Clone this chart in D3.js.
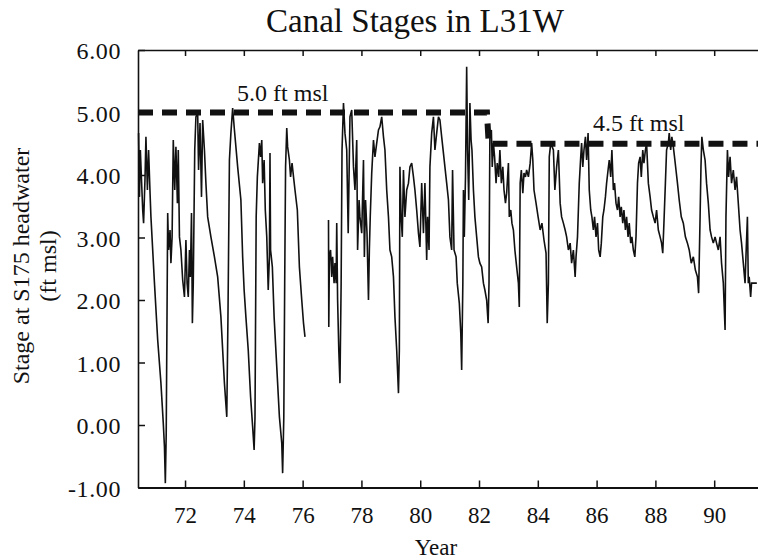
<!DOCTYPE html>
<html><head><meta charset="utf-8">
<script src="https://cdn.jsdelivr.net/npm/d3@7"></script>
<style>
body{margin:0;background:#fff}
svg{display:block}
text{font-family:"Liberation Serif","Times New Roman",serif;fill:#111}
</style>
</head><body>
<svg id="chart" width="758" height="560"></svg>
<script>
const chartTitle = "Canal Stages in L31W";
const xLabel = "Year";
const yLabelLines = ["Stage at S175 headwater", "(ft msl)"];
const xTicks = [72, 74, 76, 78, 80, 82, 84, 86, 88, 90];
const xTickLabels = ["72", "74", "76", "78", "80", "82", "84", "86", "88", "90"];
const yTicks = [-1, 0, 1, 2, 3, 4, 5, 6];
const yTickLabels = ["-1.00", "0.00", "1.00", "2.00", "3.00", "4.00", "5.00", "6.00"];
const xDomain = [70.4, 91.49];
const yDomain = [-1, 6];

// target stage (ft msl): 5.0 until 1982, then 4.5
const targetLevels = [[70.4, 5.0], [82.27, 5.0], [82.33, 4.5], [91.49, 4.5]];
const targetLabels = [{text: "5.0 ft msl", year: 73.77, level: 5.0}, {text: "4.5 ft msl", year: 85.88, level: 4.5}];

// stage record 1970-1976 [year, stage ft msl]
const stageSegmentA = [[70.42,4.67],[70.45,3.65],[70.48,4.40],[70.51,4.03],[70.56,3.44],[70.59,3.23],[70.64,3.97],[70.67,4.61],[70.72,3.76],[70.76,4.40],[70.81,3.71],[70.84,3.33],[70.96,2.27],[71.07,1.36],[71.18,0.67],[71.26,0.03],[71.30,-0.35],[71.33,-0.93],[71.36,-0.13],[71.41,3.39],[71.44,2.80],[71.49,3.12],[71.52,2.59],[71.56,3.01],[71.60,4.56],[71.65,3.76],[71.69,4.45],[71.74,3.55],[71.77,4.40],[71.81,3.01],[71.86,2.80],[71.92,2.32],[71.98,2.05],[72.03,2.96],[72.07,2.27],[72.11,2.05],[72.15,2.80],[72.18,2.37],[72.22,3.39],[72.25,1.63],[72.28,2.27],[72.33,4.40],[72.37,4.93],[72.43,4.99],[72.46,4.08],[72.51,4.83],[72.56,3.65],[72.60,4.88],[72.66,4.40],[72.71,3.87],[72.77,3.33],[72.88,3.01],[73.00,2.69],[73.11,2.37],[73.22,1.73],[73.34,0.67],[73.42,0.13],[73.46,1.73],[73.51,4.24],[73.56,4.67],[73.62,5.07],[73.68,4.72],[73.79,4.13],[73.90,3.60],[73.96,2.69],[74.01,2.16],[74.07,1.73],[74.15,1.20],[74.23,0.45],[74.30,-0.03],[74.35,-0.40],[74.38,0.13],[74.42,3.33],[74.46,3.97],[74.53,4.51],[74.57,4.29],[74.61,4.56],[74.64,3.87],[74.69,4.24],[74.73,3.44],[74.78,3.01],[74.83,2.16],[74.87,2.69],[74.89,4.35],[74.91,2.80],[74.97,2.53],[75.03,1.73],[75.12,0.93],[75.21,0.13],[75.29,-0.29],[75.32,-0.77],[75.36,0.13],[75.39,2.27],[75.42,4.13],[75.46,4.75],[75.49,4.45],[75.55,4.24],[75.59,3.97],[75.64,4.19],[75.69,3.97],[75.74,3.76],[75.82,3.44],[75.89,2.53],[75.97,2.00],[76.03,1.63],[76.08,1.41]];

// stage record 1977-1991 [year, stage ft msl]
const stageSegmentB = [[76.88,3.28],[76.89,1.57],[76.91,2.69],[76.95,2.80],[76.99,2.37],[77.02,2.69],[77.07,2.27],[77.10,2.59],[77.14,2.27],[77.16,3.23],[77.19,2.00],[77.23,1.20],[77.27,0.67],[77.31,2.27],[77.34,4.40],[77.39,5.15],[77.44,4.67],[77.50,4.40],[77.55,3.07],[77.61,4.93],[77.67,5.04],[77.73,4.13],[77.78,3.76],[77.84,4.56],[77.87,2.80],[77.92,3.60],[77.95,3.33],[78.01,3.07],[78.07,4.24],[78.10,2.69],[78.14,3.60],[78.19,3.07],[78.24,2.00],[78.27,2.80],[78.30,3.33],[78.35,4.03],[78.41,4.56],[78.46,4.29],[78.52,4.51],[78.58,4.72],[78.63,4.77],[78.69,4.93],[78.75,4.61],[78.80,4.40],[78.86,3.76],[78.92,3.33],[78.97,2.80],[79.03,2.69],[79.09,2.37],[79.14,1.73],[79.20,1.20],[79.26,0.51],[79.29,1.20],[79.31,4.13],[79.35,3.33],[79.39,3.01],[79.43,4.08],[79.48,3.33],[79.54,3.76],[79.60,3.87],[79.65,4.13],[79.71,4.19],[79.77,3.97],[79.82,3.76],[79.88,3.44],[79.94,3.07],[79.99,2.85],[80.05,3.87],[80.11,3.07],[80.16,3.87],[80.22,2.64],[80.25,3.33],[80.30,2.80],[80.33,4.13],[80.39,4.67],[80.45,4.93],[80.50,4.40],[80.56,4.67],[80.62,4.93],[80.67,4.88],[80.73,4.61],[80.79,4.35],[80.84,4.13],[80.90,3.87],[80.96,3.60],[81.01,3.01],[81.07,2.80],[81.10,4.08],[81.15,2.80],[81.22,2.69],[81.26,2.27],[81.33,1.95],[81.38,1.47],[81.41,0.88],[81.45,2.27],[81.47,3.76],[81.50,3.01],[81.54,3.97],[81.58,5.73],[81.61,4.40],[81.65,3.60],[81.69,5.15],[81.73,4.56],[81.76,4.40],[81.81,3.76],[81.86,3.33],[81.92,3.01],[81.98,2.69],[82.03,2.59],[82.09,2.53],[82.15,2.27],[82.20,2.16],[82.26,2.00],[82.31,1.63],[82.34,2.27],[82.37,4.67],[82.42,4.72],[82.45,4.13],[82.49,4.51],[82.53,4.29],[82.58,3.87],[82.62,4.19],[82.67,3.97],[82.71,4.40],[82.76,3.87],[82.81,4.13],[82.85,3.76],[82.90,3.55],[82.94,3.71],[83.00,4.19],[83.03,3.33],[83.08,3.44],[83.12,3.23],[83.17,3.12],[83.22,2.80],[83.28,2.53],[83.34,2.27],[83.37,1.89],[83.40,3.87],[83.44,4.08],[83.49,3.71],[83.53,4.03],[83.58,3.97],[83.62,4.08],[83.68,3.97],[83.74,4.19],[83.79,4.51],[83.83,4.24],[83.87,3.76],[83.94,3.55],[84.01,3.33],[84.08,3.12],[84.14,3.23],[84.21,2.96],[84.28,2.75],[84.32,1.63],[84.36,2.27],[84.39,4.29],[84.44,4.51],[84.53,4.40],[84.58,3.76],[84.64,4.13],[84.70,4.40],[84.76,3.55],[84.81,3.33],[84.87,3.23],[84.93,3.12],[84.98,3.01],[85.04,2.80],[85.10,2.91],[85.15,2.59],[85.21,2.80],[85.27,2.37],[85.30,2.69],[85.35,3.01],[85.38,3.44],[85.41,3.87],[85.46,4.29],[85.49,4.51],[85.53,4.13],[85.57,4.40],[85.62,4.61],[85.66,4.24],[85.71,4.67],[85.75,3.76],[85.80,3.44],[85.84,3.33],[85.89,3.12],[85.93,3.33],[85.98,3.01],[86.03,3.23],[86.07,2.80],[86.12,2.69],[86.16,2.91],[86.21,3.33],[86.25,3.44],[86.30,3.65],[86.34,3.87],[86.39,4.08],[86.43,4.24],[86.48,3.97],[86.52,4.40],[86.57,3.76],[86.61,3.87],[86.66,3.55],[86.71,3.44],[86.75,3.65],[86.80,3.33],[86.84,3.49],[86.89,3.23],[86.93,3.44],[86.98,3.12],[87.02,3.33],[87.07,3.01],[87.11,3.23],[87.16,2.91],[87.20,3.01],[87.25,2.80],[87.30,2.69],[87.34,3.01],[87.39,3.87],[87.43,4.19],[87.48,4.29],[87.52,3.97],[87.57,4.40],[87.61,4.19],[87.66,4.40],[87.70,4.51],[87.76,3.87],[87.82,3.65],[87.87,3.44],[87.93,3.33],[87.99,3.23],[88.04,3.44],[88.10,3.12],[88.16,3.01],[88.21,2.91],[88.25,2.75],[88.29,3.23],[88.34,3.87],[88.38,4.40],[88.44,4.51],[88.47,4.67],[88.52,4.40],[88.56,4.61],[88.61,4.45],[88.65,4.29],[88.70,4.08],[88.75,3.87],[88.81,3.60],[88.88,3.33],[88.95,3.23],[89.02,3.01],[89.09,2.91],[89.15,2.80],[89.22,2.59],[89.29,2.69],[89.36,2.48],[89.43,2.37],[89.47,2.11],[89.52,3.33],[89.55,4.13],[89.58,4.61],[89.63,4.40],[89.69,4.24],[89.74,3.87],[89.80,3.55],[89.86,3.12],[89.91,3.01],[89.97,2.91],[90.03,3.01],[90.08,2.91],[90.14,2.80],[90.20,3.01],[90.25,2.59],[90.31,2.27],[90.37,1.52],[90.40,3.33],[90.45,4.40],[90.49,3.97],[90.54,4.29],[90.59,3.87],[90.65,4.08],[90.71,3.76],[90.76,3.97],[90.82,3.55],[90.88,3.12],[90.93,2.91],[90.99,2.59],[91.05,2.27],[91.08,2.69],[91.13,3.33],[91.16,2.27],[91.19,2.37],[91.24,2.05],[91.27,2.27],[91.45,2.27]];

const svg = d3.select("#chart");
const x = d3.scaleLinear().domain(xDomain).range([138, 758]);
const y = d3.scaleLinear().domain(yDomain).range([487.5, 50]);
const ink = "#111";

// title
svg.append("text").attr("x", 415).attr("y", 31.5).attr("text-anchor", "middle")
  .attr("font-size", 33).text(chartTitle);

// axes
function styleAxis(g, w, fs) {
  g.selectAll("path.domain").attr("stroke", ink).attr("stroke-width", w);
  g.selectAll(".tick line").attr("stroke", ink).attr("stroke-width", 1.5);
  g.selectAll("text").attr("font-family", '"Liberation Serif","Times New Roman",serif')
    .attr("font-size", fs).attr("fill", ink);
  g.attr("font-family", null).attr("font-size", null);
}
const gLeft = svg.append("g").attr("transform", "translate(138,0)")
  .call(d3.axisLeft(y).tickValues(yTicks).tickFormat((d, i) => yTickLabels[i])
    .tickSize(-7).tickSizeOuter(0).tickPadding(17));
styleAxis(gLeft, 1.6, 24);
gLeft.selectAll("text").attr("dy", "0.36em").attr("letter-spacing", 0.6);

const gBottom = svg.append("g").attr("transform", "translate(0,487.5)")
  .call(d3.axisBottom(x).tickValues(xTicks).tickFormat((d, i) => xTickLabels[i])
    .tickSize(-7).tickSizeOuter(0).tickPadding(19));
styleAxis(gBottom, 2.2, 23);

const gTop = svg.append("g").attr("transform", "translate(0,50)")
  .call(d3.axisTop(x).tickValues(xTicks).tickFormat(() => "")
    .tickSize(-6).tickSizeOuter(0));
styleAxis(gTop, 1.6, 22);

// axis labels
svg.append("text").attr("x", 436).attr("y", 555).attr("text-anchor", "middle")
  .attr("font-size", 23).text(xLabel);
svg.append("text").attr("transform", "translate(29,266) rotate(-90)")
  .attr("text-anchor", "middle").attr("font-size", 24).text(yLabelLines[0]);
svg.append("text").attr("transform", "translate(56,266) rotate(-90)")
  .attr("text-anchor", "middle").attr("font-size", 24).text(yLabelLines[1]);

// stage record
const line = d3.line().x(d => x(d[0])).y(d => y(d[1]));
[stageSegmentA, stageSegmentB].forEach(seg => {
  svg.append("path").datum(seg).attr("d", line)
    .attr("fill", "none").attr("stroke", ink).attr("stroke-width", 1.6)
    .attr("stroke-linejoin", "miter").attr("stroke-miterlimit", 2);
});

// target stage dashed line
svg.append("path").datum(targetLevels).attr("d", line)
  .attr("fill", "none").attr("stroke", ink).attr("stroke-width", 6)
  .attr("stroke-dasharray", "15,9");

targetLabels.forEach((t, i) => {
  svg.append("text").attr("x", x(t.year)).attr("y", y(t.level) - (i === 0 ? 11.5 : 13))
    .attr("font-size", 24).text(t.text);
});
</script>
</body></html>
